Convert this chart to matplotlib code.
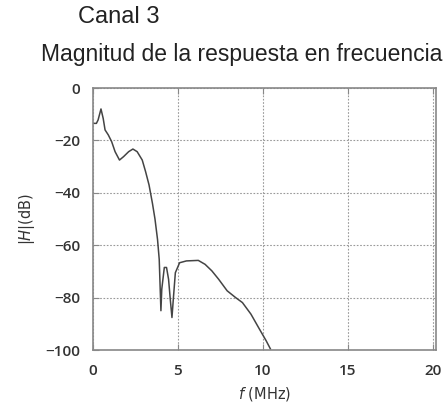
import numpy as np
import matplotlib
matplotlib.use("Agg")
import matplotlib.pyplot as plt

# valores (MHz, dB)
freq = [0.0, 0.2, 0.3, 0.47, 0.6, 0.71, 0.9, 1.1, 1.3, 1.56, 1.8, 2.1, 2.35,
        2.6, 2.9, 3.1, 3.3, 3.5, 3.65, 3.8, 3.9, 4.0, 4.05, 4.2, 4.33, 4.45,
        4.55, 4.65, 4.73, 4.85, 5.1, 5.5, 6.2, 6.6, 7.0, 7.4, 7.9, 8.4, 8.8,
        9.3, 9.8, 10.2, 10.45]
mag_db = [-13.5, -13.5, -12.2, -8.0, -11.6, -16.0, -17.9, -20.5, -24.3, -27.5,
          -26.2, -24.3, -23.3, -24.3, -27.5, -32.0, -37.0, -44.0, -50.0, -57.8,
          -65.4, -85.0, -76.8, -68.5, -68.5, -73.0, -80.6, -87.6, -80.6, -70.5,
          -66.7, -66.0, -65.8, -67.3, -69.8, -73.0, -77.4, -80.0, -81.9, -86.3,
          -92.0, -96.5, -99.6]

xticks = [0, 5, 10, 15, 20]
yticks = [0, -20, -40, -60, -80, -100]

fig = plt.figure(figsize=(4.47, 4.11), dpi=100)
ax = fig.add_axes([93/447, 1 - 350/411, (436 - 93)/447, (350 - 88)/411])

ax.plot(freq, mag_db, color="#444444", lw=1.1)

ax.set_xlim(0, 20.2)
ax.set_ylim(-100, 0)
ax.set_xticks(xticks)
ax.set_yticks(yticks)
ax.set_xticklabels([str(t) for t in xticks])
ax.set_yticklabels(["0", "\u221220", "\u221240", "\u221260", "\u221280", "\u2212100"])
ax.grid(True, color="#999999", ls=(0, (1.5, 1.5)), lw=0.8)
ax.tick_params(direction="in", length=4, color="#888888", top=True,
               labelsize=11, labelcolor="#333333")
ax.tick_params(axis="x", pad=10)
ax.tick_params(axis="y", pad=9)
for lab in ax.get_xticklabels() + ax.get_yticklabels():
    lab.set_fontfamily("Open Sans")
    lab.set_fontweight("semibold")
for sp in ax.spines.values():
    sp.set_color("#888888")
    sp.set_linewidth(1.2)

ax.set_xlabel(r"$f$ (MHz)", fontsize=10.5, color="#333333", labelpad=5)
ax.set_ylabel(r"|$H$|(dB)", fontsize=10.5, color="#333333", labelpad=6)

fig.text(78/447, 1 - 17/411, "Canal 3", fontsize=17, family="Liberation Sans",
         va="center", ha="left", color="#222222")
fig.text(41/447, 1 - 55/411, "Magnitud de la respuesta en frecuencia",
         fontsize=16.5, family="Liberation Sans", va="center", ha="left",
         color="#222222")

fig.savefig("out.png", dpi=100)
